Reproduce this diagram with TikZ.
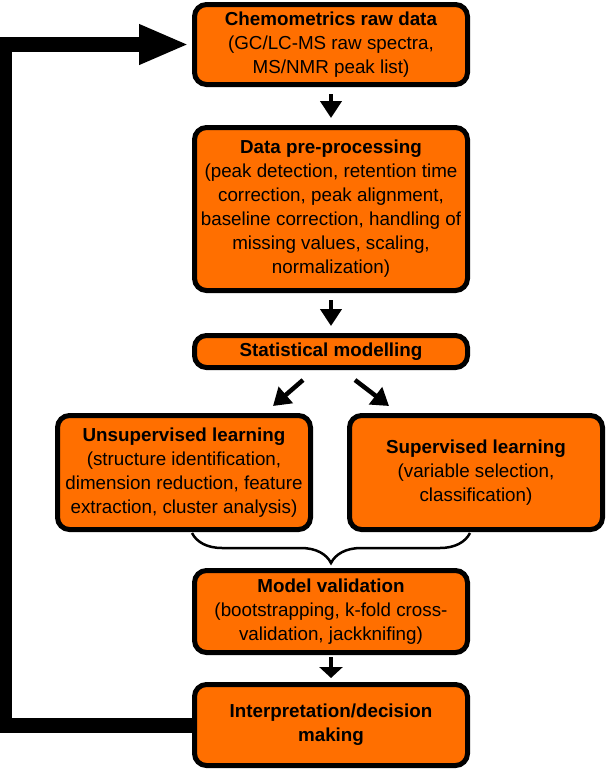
\documentclass[tikz,border=0pt]{standalone}
\usepackage{fontspec}
\setmainfont{Liberation Sans}
\usetikzlibrary{arrows.meta,calc,decorations.pathreplacing}
\definecolor{stageorange}{RGB}{255,111,0}
\tikzset{stage/.style={draw, line width=5pt, rounded corners=12pt, fill=stageorange,
    align=center, inner sep=0pt, minimum width=273pt,
    font=\fontsize{18.8}{24}\selectfont}}

\begin{document}
\begin{tikzpicture}[x=1pt, y=-1pt,
    flow/.style={line width=4.5pt, -{Triangle[length=17pt,width=21pt]}, shorten <=7pt, shorten >=7pt},
    feedback/.style={line width=15pt, -{Triangle[length=50pt,width=37pt]}, shorten >=3pt}]
    \useasboundingbox (0,0) rectangle (608,772);
    % the stages
    \node [stage, minimum height=80pt] (raw) at (331,44.5)
        {\textbf{Chemometrics raw data}\\(GC/LC-MS raw spectra,\\MS/NMR peak list)};
    \node [stage, minimum height=163pt] (prep) at (331,209)
        {\textbf{Data pre-processing}\\(peak detection, retention time\\correction, peak alignment,\\baseline correction, handling of\\missing values, scaling,\\normalization)};
    \node [stage, minimum height=32pt] (stat) at (331,351.5) {\textbf{Statistical modelling}};
    \node [stage, minimum width=253pt, minimum height=114pt] (unsup) at (184,472.5)
        {\textbf{Unsupervised learning}\\(structure identification,\\dimension reduction, feature\\extraction, cluster analysis)};
    \node [stage, minimum width=253pt, minimum height=114pt] (sup) at (476,472.5)
        {\textbf{Supervised learning}\\(variable selection,\\classification)};
    \node [stage, minimum height=82pt] (valid) at (331,611.5)
        {\textbf{Model validation}\\(bootstrapping, k-fold cross-\\validation, jackknifing)};
    \node [stage, minimum height=81pt] (interp) at (331,725)
        {\textbf{Interpretation/decision}\\\textbf{making}};
    % arrows between them
    \draw [flow] (raw) -- (prep);
    \draw [flow] (prep) -- (stat);
    \draw [flow, shorten <=0pt, shorten >=0pt] ($(stat.south)+(-28,10)$) -- ($(unsup.north east)+(-40,-7)$);
    \draw [flow, shorten <=0pt, shorten >=0pt] ($(stat.south)+(24,10)$) -- ($(sup.north west)+(42,-7)$);
    \draw [line width=2.5pt, decorate, decoration={brace, mirror, amplitude=30pt}]
        ([yshift=35pt]valid.north west) -- ([yshift=35pt]valid.north east);
    \draw [flow, -{Triangle[length=11pt,width=23pt]}, shorten <=2pt, shorten >=4pt] (valid) -- (interp);
    \draw [feedback] (interp.west) -- ++(-187.5,0) |- (raw.west);
\end{tikzpicture}
\end{document}
